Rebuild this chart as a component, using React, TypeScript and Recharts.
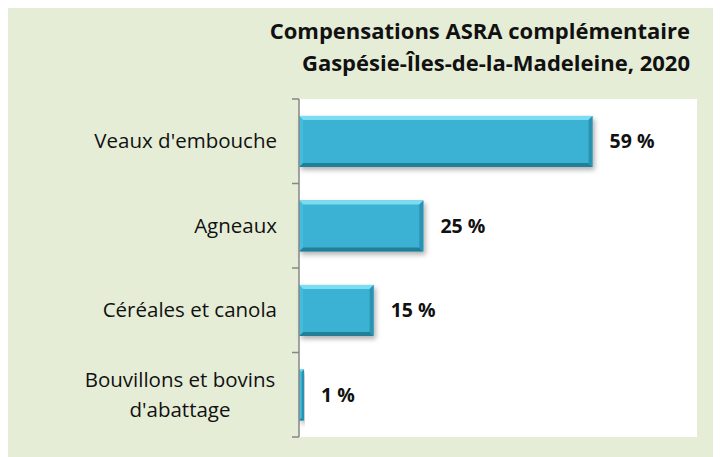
import React from "react";
import { BarChart, Bar, XAxis, YAxis, CartesianGrid, LabelList } from "recharts";

const categories = ["Veaux d'embouche", "Agneaux", "Céréales et canola", "Bouvillons et bovins d'abattage"];
const shares = [59, 25, 15, 1];
const titleLines = ["Compensations ASRA complémentaire", "Gaspésie-Îles-de-la-Madeleine, 2020"];

const data = categories.map((name, i) => ({ name, value: shares[i] }));

const FONT = "'Open Sans', Lato, sans-serif";
const W = 713;
const H = 451;
const PLOT_TOP = 93;
const PLOT_BOTTOM = 20;

const wrapLabel = (s: string): string[] => {
  if (s.length <= 20) return [s];
  const words = s.split(" ");
  const lines: string[] = [];
  let cur = "";
  words.forEach((w) => {
    const next = cur ? cur + " " + w : w;
    if (next.length > 20 && cur) {
      lines.push(cur);
      cur = w;
    } else cur = next;
  });
  if (cur) lines.push(cur);
  return lines;
};

const CategoryTick = (props: any) => {
  const { x, y, payload, index } = props;
  const band = (H - PLOT_TOP - PLOT_BOTTOM) / categories.length;
  const lines = wrapLabel(payload.value);
  const lh = 30;
  const startY = y - ((lines.length - 1) * lh) / 2;
  const textX = x - 22;
  const centerX = textX - 97;
  return (
    <g>
      <line x1={x - 7} x2={x} y1={y - band / 2} y2={y - band / 2} stroke="#868686" strokeWidth={1.5} />
      {index === categories.length - 1 && (
        <line x1={x - 7} x2={x} y1={y + band / 2} y2={y + band / 2} stroke="#868686" strokeWidth={1.5} />
      )}
      {lines.map((l, i) => (
        <text
          key={i}
          x={lines.length > 1 ? centerX : textX}
          y={startY + i * lh}
          dy="0.35em"
          textAnchor={lines.length > 1 ? "middle" : "end"}
          fontFamily={FONT}
          fontSize={20.5}
          fill="#111"
        >
          {l}
        </text>
      ))}
    </g>
  );
};

const BevelBar = (props: any) => {
  const { x, y, width, height } = props;
  if (!width || width <= 0) return null;
  const b = Math.max(0.5, Math.min(4, width / 2, height / 2));
  const x2 = x + width;
  const y2 = y + height;
  return (
    <g filter="url(#barShadow)">
      <rect x={x} y={y} width={width} height={height} fill="#3AB2D4" />
      <polygon points={`${x},${y} ${x2},${y} ${x2 - b},${y + b} ${x + b},${y + b}`} fill="#7ADDF2" />
      <polygon points={`${x},${y2} ${x2},${y2} ${x2 - b},${y2 - b} ${x + b},${y2 - b}`} fill="#237F98" />
      <polygon points={`${x2},${y} ${x2},${y2} ${x2 - b},${y2 - b} ${x2 - b},${y + b}`} fill="#2B93B2" />
      <polygon points={`${x},${y} ${x},${y2} ${x + b},${y2 - b} ${x + b},${y + b}`} fill="#45BCDB" />
    </g>
  );
};

export default function App() {
  return (
    <div style={{ position: "relative", width: W, height: H, marginTop: -2, background: "#E6EDD7" }}>
      <div
        style={{
          position: "absolute",
          right: 31,
          top: 8,
          textAlign: "right",
          fontFamily: FONT,
          fontWeight: 700,
          fontSize: 22,
          lineHeight: "32px",
          color: "#111",
          zIndex: 2,
        }}
      >
        {titleLines.map((t) => (
          <div key={t}>{t}</div>
        ))}
      </div>
      <BarChart
        width={W}
        height={H}
        data={data}
        layout="vertical"
        margin={{ top: PLOT_TOP, right: 24, bottom: PLOT_BOTTOM, left: 0 }}
        barCategoryGap="20%"
      >
        <defs>
          <filter id="barShadow" x="-10%" y="-30%" width="130%" height="180%">
            <feDropShadow dx="2" dy="3" stdDeviation="2.5" floodColor="#000" floodOpacity="0.3" />
          </filter>
        </defs>
        <CartesianGrid horizontal={false} vertical={false} fill="#FFFFFF" />
        <XAxis type="number" domain={[0, 80]} hide />
        <YAxis
          type="category"
          dataKey="name"
          width={291}
          axisLine={{ stroke: "#868686", strokeWidth: 1.5 }}
          tickLine={false}
          tickSize={0}
          tickMargin={0}
          tick={<CategoryTick />}
          interval={0}
        />
        <Bar dataKey="value" shape={<BevelBar />} isAnimationActive={false}>
          <LabelList
            dataKey="value"
            position="right"
            offset={17}
            formatter={(v: any) => `${v} %`}
            style={{ fontFamily: FONT, fontWeight: 700, fontSize: 19.5, fill: "#111" }}
          />
        </Bar>
      </BarChart>
    </div>
  );
}
